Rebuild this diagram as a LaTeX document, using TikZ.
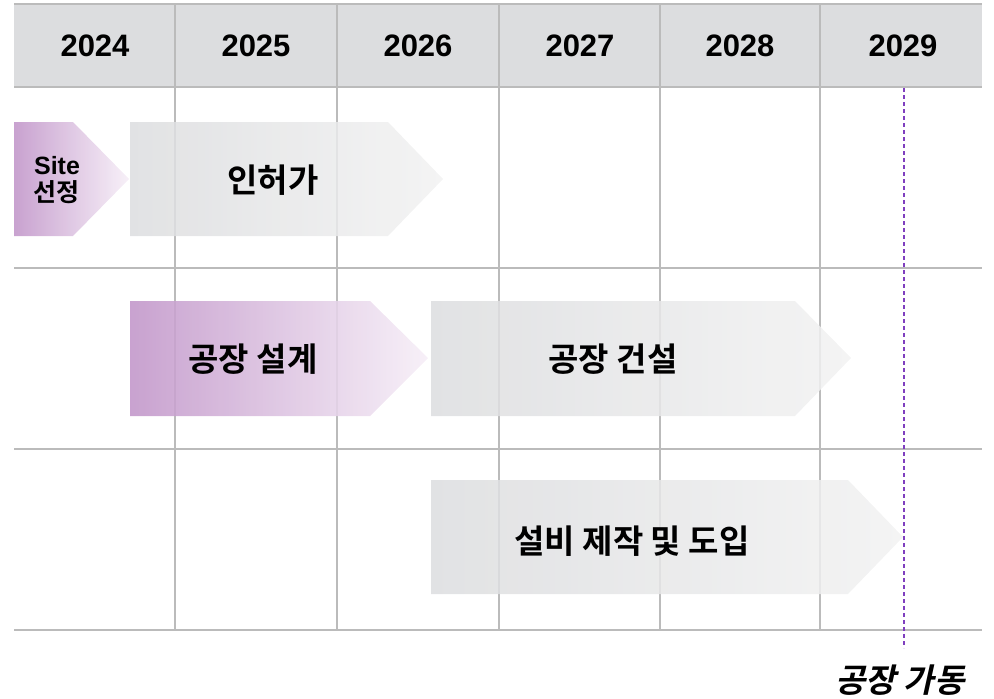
\documentclass[tikz,border=0pt]{standalone}
\usepackage{fontspec}
\setmainfont{Liberation Sans}
\newfontfamily\kr{Noto Sans CJK KR}[BoldFont={Noto Sans CJK KR Bold}]
\newfontfamily\krit{Noto Sans CJK KR Bold}[FakeSlant=0.22]
\definecolor{hdr}{HTML}{DCDDDF}
\definecolor{gridc}{HTML}{BBBBBB}
\definecolor{pd}{HTML}{C195C9}
\definecolor{pl}{HTML}{F6EEF7}
\definecolor{gd}{HTML}{DCDDDF}
\definecolor{gl}{HTML}{F2F2F2}
\definecolor{dashc}{HTML}{7F3FBF}
\tikzset{
  gridline/.style={draw=gridc, line width=1.5pt},
  graybar/.style={left color=gd, right color=gl, fill opacity=0.85, draw=none},
  purplebar/.style={left color=pd, right color=pl, fill opacity=0.88, draw=none},
  yearlbl/.style={font=\fontsize{31}{36}\selectfont\bfseries, text=black},
  barlbl/.style={font=\kr\bfseries\fontsize{33}{38}\selectfont, text=black},
  smalllbl/.style={font=\bfseries\fontsize{25}{27}\selectfont, text=black, align=center},
  milestone/.style={draw=dashc, line width=1.3pt, dash pattern=on 4pt off 3pt}
}
\begin{document}
\begin{tikzpicture}[x=1pt,y=-1pt]
\useasboundingbox (0,0) rectangle (994,699);
% header
\fill[hdr] (14,4) rectangle (982,87);
\draw[gridline] (14,4) -- (982,4);
\draw[gridline] (14,87) -- (982,87);
% horizontal row lines
\draw[gridline] (14,268) -- (982,268);
\draw[gridline] (14,449) -- (982,449);
\draw[gridline] (14,630) -- (982,630);
% vertical column lines
\foreach \x in {175,337,499,660,820} {
  \draw[gridline] (\x,4) -- (\x,630);
}
% year labels
\node[yearlbl] (y2024) at (95,46) {2024};
\node[yearlbl] (y2025) at (256,46) {2025};
\node[yearlbl] (y2026) at (418,46) {2026};
\node[yearlbl] (y2027) at (580,46) {2027};
\node[yearlbl] (y2028) at (740,46) {2028};
\node[yearlbl] (y2029) at (903,46) {2029};
% row 1
\path[purplebar] (14,122) -- (73,122) -- (129,179) -- (73,236) -- (14,236) -- cycle;
\path[graybar] (130,122) -- (388,122) -- (443,179) -- (388,236) -- (130,236) -- cycle;
\node[smalllbl] (site) at (57,180) {Site\\{\kr\bfseries\fontsize{25}{27}\selectfont 선정}};
\node[barlbl] (permit) at (273,180) {인허가};
% row 2
\path[purplebar] (130,301) -- (370,301) -- (428,358) -- (370,416) -- (130,416) -- cycle;
\path[graybar] (431,301) -- (795,301) -- (851,358) -- (795,416) -- (431,416) -- cycle;
\node[barlbl] (design) at (253,359) {공장 설계};
\node[barlbl] (build) at (613,359) {공장 건설};
% row 3
\path[graybar] (431,480) -- (848,480) -- (903,537) -- (848,594) -- (431,594) -- cycle;
\node[barlbl] (equip) at (632,541) {설비 제작 및 도입};
% milestone
\coordinate (mtop) at (904,88);
\coordinate (mbot) at (904,648);
\draw[milestone] (mtop) -- (mbot);
\node[font=\krit\fontsize{33}{38}\selectfont, text=black] (op) at (900,680) {공장 가동};
\end{tikzpicture}
\end{document}
